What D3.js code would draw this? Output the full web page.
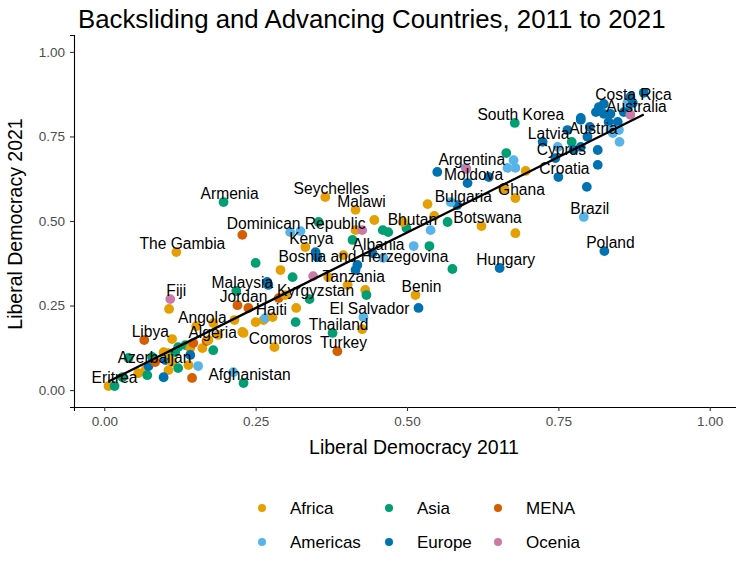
<!DOCTYPE html>
<html><head><meta charset="utf-8">
<script src="https://cdn.jsdelivr.net/npm/d3@7"></script>
<style>body{margin:0;background:#fff;} text{font-family:"Liberation Sans",Arial,sans-serif;}</style>
</head><body><svg id="chart" width="736" height="562"></svg>
<script>
const regionNames = ["Africa","Americas","Asia","Europe","MENA","Ocenia"];
const regionColors = ["#E69F00","#56B4E9","#009E73","#0072B2","#D55E00","#CC79A7"];
const xTicks = [0,0.25,0.5,0.75,1];
const yTicks = [0,0.25,0.5,0.75,1];

const countries = [
  "Eritrea","","","","","","Azerbaijan","","","",
  "","","","","","","","","","",
  "","","","","","","","","Algeria","",
  "","Libya","","Angola","","","","","","Haiti",
  "","Fiji","","Jordan","","Malaysia","","","Afghanistan","",
  "Comoros","","","","","","Kyrgyzstan","Tanzania","","",
  "Benin","","El Salvador","","Thailand","Turkey","","","","",
  "","","Bosnia and Herzegovina","Kenya","","","","Albania","","",
  "","","","","Dominican Republic","","","Armenia","The Gambia","Seychelles",
  "Malawi","","","","","","Bhutan","","","",
  "","","Hungary","South Korea","","","","","","Ghana",
  "","Moldova","","Argentina","","Bulgaria","","Botswana","","",
  "Croatia","Cyprus","Latvia","","","","Austria","","","",
  "Brazil","Poland","","","","","","","","",
  "","","","","","","Australia","Costa Rica","","",
  "","","","",""
];
const regions = ["Africa","Asia","Asia","Africa","Africa","Asia","Europe","Asia","Asia","MENA","Europe","Africa","Africa","Africa","Asia","Asia","Africa","Europe","Africa","Americas","MENA","Asia","Asia","Africa","Europe","Africa","Asia","MENA","MENA","Africa","Africa","MENA","Africa","Africa","Africa","Africa","Africa","Africa","Africa","Americas","Africa","Ocenia","Africa","MENA","MENA","Asia","Europe","Europe","Asia","Americas","Africa","Africa","Asia","Africa","MENA","Africa","Asia","Africa","Africa","Asia","Africa","Europe","Americas","Africa","Asia","MENA","Asia","Africa","Asia","Ocenia","Africa","Europe","Europe","Africa","Europe","Europe","Africa","Europe","Asia","Africa","Ocenia","Africa","Asia","Asia","Americas","Americas","MENA","Asia","Africa","Africa","Africa","Americas","Americas","Asia","Americas","Asia","Asia","Asia","Africa","Africa","Africa","Asia","Europe","Asia","Asia","Americas","Americas","Americas","Africa","Africa","Africa","Europe","Europe","Americas","Ocenia","Europe","Americas","Africa","Africa","Europe","Europe","Europe","Europe","Asia","Europe","Europe","Europe","Europe","Europe","Europe","Americas","Europe","Americas","Europe","Europe","Europe","Europe","Europe","Europe","Europe","Europe","Europe","Americas","Americas","Americas","Americas","Ocenia","Americas","Europe","Europe","Europe","Europe","Europe","Europe","Europe"];
const ld2011 = [0.007,0.017,0.030,0.056,0.068,0.071,0.073,0.040,0.079,0.084,0.101,0.112,0.098,0.106,0.117,0.122,0.106,0.098,0.139,0.155,0.145,0.122,0.134,0.142,0.142,0.162,0.180,0.147,0.169,0.172,0.188,0.066,0.112,0.152,0.180,0.215,0.230,0.250,0.263,0.266,0.278,0.109,0.107,0.220,0.238,0.218,0.269,0.271,0.230,0.213,0.281,0.228,0.316,0.317,0.288,0.299,0.339,0.402,0.431,0.433,0.514,0.519,0.428,0.426,0.377,0.385,0.250,0.291,0.311,0.345,0.370,0.415,0.418,0.332,0.349,0.352,0.395,0.443,0.410,0.415,0.426,0.446,0.460,0.354,0.307,0.324,0.228,0.197,0.119,0.365,0.415,0.461,0.511,0.537,0.539,0.469,0.499,0.567,0.493,0.534,0.545,0.575,0.653,0.678,0.664,0.676,0.666,0.679,0.696,0.679,0.661,0.600,0.550,0.597,0.598,0.583,0.572,0.623,0.679,0.635,0.750,0.745,0.724,0.772,0.765,0.787,0.798,0.815,0.815,0.797,0.792,0.826,0.749,0.817,0.812,0.825,0.836,0.858,0.864,0.833,0.848,0.802,0.836,0.850,0.840,0.851,0.869,0.864,0.891,0.869,0.873,0.775,0.787,0.825,0.787];
const ld2021 = [0.012,0.012,0.038,0.050,0.059,0.044,0.071,0.095,0.098,0.083,0.089,0.083,0.112,0.109,0.112,0.065,0.059,0.038,0.074,0.071,0.036,0.127,0.133,0.124,0.104,0.124,0.118,0.139,0.145,0.148,0.163,0.148,0.151,0.189,0.198,0.207,0.169,0.201,0.207,0.213,0.216,0.269,0.240,0.251,0.243,0.293,0.320,0.311,0.021,0.053,0.127,0.172,0.201,0.243,0.272,0.281,0.269,0.311,0.296,0.281,0.281,0.243,0.216,0.180,0.169,0.115,0.376,0.355,0.334,0.337,0.334,0.355,0.370,0.423,0.408,0.393,0.399,0.405,0.444,0.473,0.473,0.503,0.473,0.497,0.467,0.470,0.459,0.556,0.408,0.571,0.533,0.391,0.426,0.426,0.473,0.467,0.479,0.497,0.497,0.550,0.515,0.358,0.361,0.790,0.701,0.680,0.657,0.657,0.648,0.568,0.595,0.612,0.645,0.657,0.654,0.547,0.556,0.485,0.464,0.630,0.630,0.686,0.734,0.734,0.769,0.799,0.749,0.710,0.666,0.601,0.512,0.411,0.719,0.837,0.822,0.817,0.817,0.822,0.828,0.793,0.793,0.778,0.769,0.769,0.760,0.734,0.814,0.849,0.879,0.867,0.849,0.710,0.719,0.846,0.805];

const svg = d3.select("#chart");
svg.append("rect").attr("width",736).attr("height",562).attr("fill","#fff");

const x = d3.scaleLinear().domain([-0.05,1.05]).range([74,740]);
const y = d3.scaleLinear().domain([-0.05,1.05]).range([407,35]);
const color = d3.scaleOrdinal().domain(regionNames).range(regionColors);

const data = ld2011.map((v,i)=>({name:countries[i]||"",region:regions[i],x:v,y:ld2021[i]}));

// axes
const xAxis = d3.axisBottom(x).tickValues(xTicks).tickFormat(d3.format(".2f")).tickSize(4).tickPadding(5);
const yAxis = d3.axisLeft(y).tickValues(yTicks).tickFormat(d3.format(".2f")).tickSize(4).tickPadding(5);
const gx = svg.append("g").attr("transform",`translate(0,${y(-0.05)})`).call(xAxis);
const gy = svg.append("g").attr("transform",`translate(${x(-0.05)},0)`).call(yAxis);
[gx,gy].forEach(g=>{
  g.select(".domain").attr("stroke","#000").attr("stroke-width",1.1);
  g.selectAll(".tick line").attr("stroke","#333").attr("stroke-width",1.1);
  g.selectAll(".tick text").attr("fill","#4D4D4D").style("font-size","13.5px").style("font-family","Liberation Sans, Arial, sans-serif");
});

// points
svg.append("g").selectAll("circle").data(data).join("circle")
  .attr("cx",d=>x(d.x)).attr("cy",d=>y(d.y)).attr("r",4.9)
  .attr("fill",d=>color(d.region));

// linear fit
const mx = d3.mean(data,d=>d.x), my = d3.mean(data,d=>d.y);
const slope = d3.sum(data,d=>(d.x-mx)*(d.y-my))/d3.sum(data,d=>(d.x-mx)*(d.x-mx));
const intercept = my - slope*mx;
const [xmin,xmax] = d3.extent(data,d=>d.x);
svg.append("line")
  .attr("x1",x(xmin)).attr("y1",y(intercept+slope*xmin))
  .attr("x2",x(xmax)).attr("y2",y(intercept+slope*xmax))
  .attr("stroke","#000").attr("stroke-width",2.3);

// labels
const nudgeX = 0.01, nudgeY = 0.025;
svg.append("g").selectAll("text").data(data.filter(d=>d.name)).join("text")
  .attr("x",d=>x(d.x+nudgeX)).attr("y",d=>y(d.y+nudgeY))
  .attr("text-anchor","middle").attr("dominant-baseline","central")
  .style("font-size","15.6px").attr("fill","#000").text(d=>d.name);

// titles
svg.append("text").attr("x",78).attr("y",28).style("font-size","25.8px").attr("fill","#000")
  .text("Backsliding and Advancing Countries, 2011 to 2021");
svg.append("text").attr("x",414).attr("y",454).attr("text-anchor","middle")
  .style("font-size","19.5px").attr("fill","#000").text("Liberal Democracy 2011");
svg.append("text").attr("transform",`translate(22,224) rotate(-90)`).attr("text-anchor","middle")
  .style("font-size","19.5px").attr("fill","#000").text("Liberal Democracy 2021");

// legend
const legX = [262,389,498], legY = [508,542];
const leg = svg.append("g").selectAll("g").data(regionNames).join("g")
  .attr("transform",(d,i)=>`translate(${legX[Math.floor(i/2)]},${legY[i%2]})`);
leg.append("circle").attr("r",4).attr("fill",d=>color(d));
leg.append("text").attr("x",28).attr("dominant-baseline","central").style("font-size","17px").attr("fill","#000").text(d=>d);
</script></body></html>
